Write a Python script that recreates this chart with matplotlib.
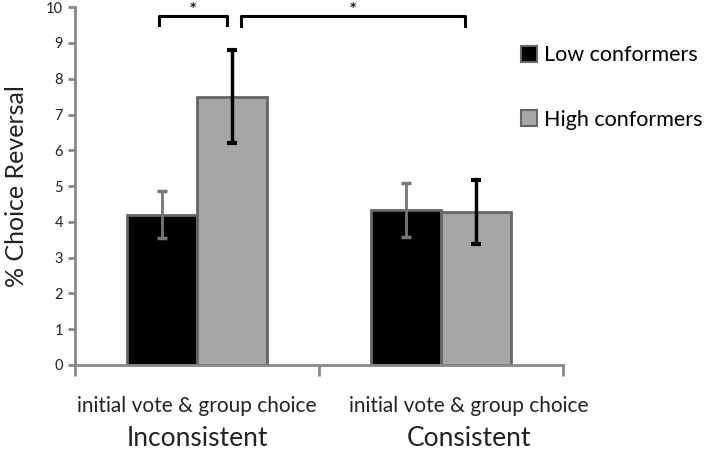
import numpy as np
import matplotlib.pyplot as plt
from matplotlib.patches import Patch

plt.rcParams['font.family'] = ['Lato', 'DejaVu Sans']

groups = ['Inconsistent', 'Consistent']
sublabel = 'initial vote & group choice'
low_vals = [4.2, 4.33]
low_err = [0.65, 0.75]
high_vals = [7.5, 4.27]
high_err = [1.3, 0.9]
series = ['Low conformers', 'High conformers']

fig = plt.figure(figsize=(7.2, 4.5), dpi=100)
ax = fig.add_axes([0.104, 0.189, 0.678, 0.795])

x = np.arange(len(groups))
w = 0.287
edge = '#666666'
ax.bar(x - w / 2, low_vals, w, color='black', edgecolor=edge, linewidth=2, zorder=2)
ax.bar(x + w / 2, high_vals, w, color='#a6a6a6', edgecolor=edge, linewidth=2, zorder=2)
ax.errorbar(x - w / 2, low_vals, yerr=low_err, fmt='none', ecolor='#777777',
            elinewidth=2, capsize=3.5, capthick=2.5, zorder=3)
ax.errorbar(x + w / 2, high_vals, yerr=high_err, fmt='none', ecolor='black',
            elinewidth=2.5, capsize=3.5, capthick=3, zorder=3)

ax.set_xlim(-0.5, 1.5)
ax.set_ylim(0, 10)
ax.set_yticks(range(0, 11))
ax.tick_params(axis='y', labelsize=10.5, colors='#888888', labelcolor='#222222',
               width=2, length=5)
ax.set_xticks([-0.5, 0.5, 1.5])
ax.set_xticklabels([])
ax.tick_params(axis='x', colors='#888888', width=2, length=8)
for s in ['top', 'right']:
    ax.spines[s].set_visible(False)
for s in ['left', 'bottom']:
    ax.spines[s].set_color('#888888')
    ax.spines[s].set_linewidth(2)

# group labels sit a bit off the bar centres, as in the original
label_x = [0.0, 1.115]
for i, g in enumerate(groups):
    ax.text(label_x[i], -1.15, sublabel, ha='center', va='center', fontsize=15,
            color='#222222')
    ax.text(label_x[i], -2.05, g, ha='center', va='center', fontsize=19,
            color='#222222')

ax.set_ylabel('% Choice Reversal', fontsize=18, color='#222222')
ax.yaxis.set_label_coords(-0.097, 0.5)

# significance brackets
def bracket(x0, x1, y, h):
    ax.plot([x0, x0, x1, x1], [y - h, y, y, y - h], color='black', lw=2.2,
            clip_on=False, solid_joinstyle='round')
    ax.text((x0 + x1) / 2, y + 0.0, '*', ha='center', va='baseline', fontsize=14)

bracket(-0.155, 0.125, 9.75, 0.25)
bracket(0.18, 1.1, 9.75, 0.28)

handles = [Patch(facecolor='black', edgecolor=edge, linewidth=1.5),
           Patch(facecolor='#a6a6a6', edgecolor=edge, linewidth=1.5)]
fig.legend(handles, series, loc='upper left', bbox_to_anchor=(0.697, 0.942),
           frameon=False, fontsize=15.5, handlelength=0.75, handleheight=0.75,
           handletextpad=0.3, labelspacing=2.05)

fig.savefig('out.png', dpi=100)
